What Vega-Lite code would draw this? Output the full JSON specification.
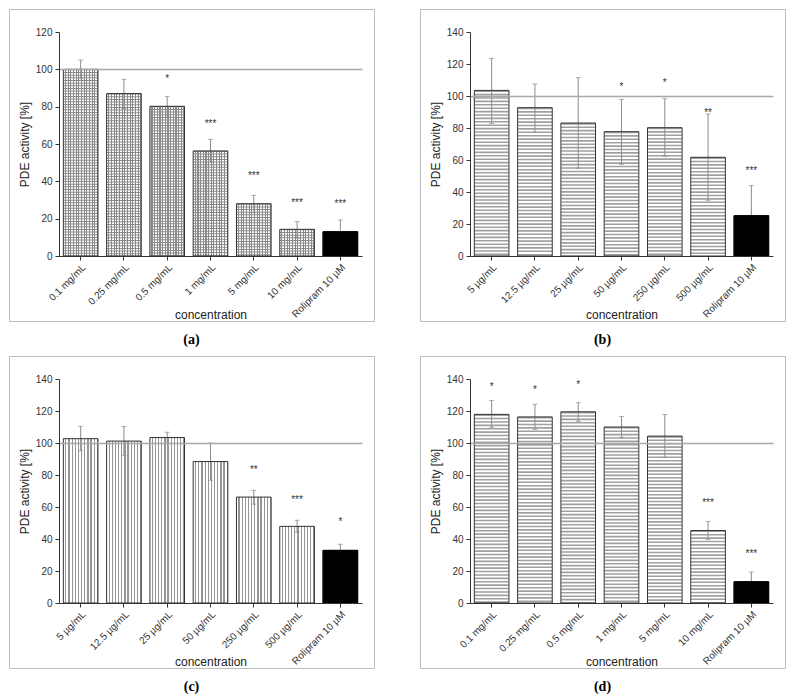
{
  "$schema": "https://vega.github.io/schema/vega-lite/v6.json",
  "padding": {"left": 8, "top": 8, "right": 4, "bottom": 4},
  "background": "white",
  "spacing": 7,
  "vconcat": [
    {
      "spacing": 44,
      "hconcat": [
        {
          "width": 365, "height": 312,
          "title": {"text": "(a)"},
          "data": {"values": [
            {"c": "0.1 mg/mL", "v": 100, "lo": 95, "hi": 105},
            {"c": "0.25 mg/mL", "v": 87, "lo": 79, "hi": 94.6},
            {"c": "0.5 mg/mL", "v": 80.2, "lo": 75, "hi": 85.5, "s": "*", "sy": 96},
            {"c": "1 mg/mL", "v": 56.3, "lo": 50.4, "hi": 62.5, "s": "***", "sy": 72.3},
            {"c": "5 mg/mL", "v": 28, "lo": 23.2, "hi": 32.5, "s": "***", "sy": 44},
            {"c": "10 mg/mL", "v": 14.3, "lo": 9.5, "hi": 18.4, "s": "***", "sy": 30},
            {"c": "Rolipram 10 µM", "v": 13, "lo": 6.8, "hi": 19.3, "s": "***", "sy": 29}
          ]},
          "encoding": {"x": {"field": "c", "type": "nominal", "sort": null,
            "scale": {"range": [50, 353], "paddingInner": 0.2, "paddingOuter": 0.1},
            "axis": {"title": "concentration", "labelAngle": -45, "labelAlign": "right", "labelBaseline": "top", "offset": -65, "tickSize": 4, "bandPosition": 0.5, "titleY": 62, "titleBaseline": "alphabetic", "labelPadding": 2, "zindex": 1}}},
          "layer": [
            {"mark": {"type": "bar", "strokeWidth": 0, "fill": {"gradient": "linear", "x1": 0, "x2": 1, "y1": 0, "y2": 0, "stops": [
              {"offset": 0, "color": "#fff"}, {"offset": 0.0462, "color": "#fff"}, {"offset": 0.0462, "color": "#8a8a8a"}, {"offset": 0.0769, "color": "#8a8a8a"},
              {"offset": 0.0769, "color": "#fff"}, {"offset": 0.1231, "color": "#fff"}, {"offset": 0.1231, "color": "#8a8a8a"}, {"offset": 0.1538, "color": "#8a8a8a"},
              {"offset": 0.1538, "color": "#fff"}, {"offset": 0.2, "color": "#fff"}, {"offset": 0.2, "color": "#8a8a8a"}, {"offset": 0.2308, "color": "#8a8a8a"},
              {"offset": 0.2308, "color": "#fff"}, {"offset": 0.2769, "color": "#fff"}, {"offset": 0.2769, "color": "#8a8a8a"}, {"offset": 0.3077, "color": "#8a8a8a"},
              {"offset": 0.3077, "color": "#fff"}, {"offset": 0.3538, "color": "#fff"}, {"offset": 0.3538, "color": "#8a8a8a"}, {"offset": 0.3846, "color": "#8a8a8a"},
              {"offset": 0.3846, "color": "#fff"}, {"offset": 0.4308, "color": "#fff"}, {"offset": 0.4308, "color": "#8a8a8a"}, {"offset": 0.4615, "color": "#8a8a8a"},
              {"offset": 0.4615, "color": "#fff"}, {"offset": 0.5077, "color": "#fff"}, {"offset": 0.5077, "color": "#8a8a8a"}, {"offset": 0.5385, "color": "#8a8a8a"},
              {"offset": 0.5385, "color": "#fff"}, {"offset": 0.5846, "color": "#fff"}, {"offset": 0.5846, "color": "#8a8a8a"}, {"offset": 0.6154, "color": "#8a8a8a"},
              {"offset": 0.6154, "color": "#fff"}, {"offset": 0.6615, "color": "#fff"}, {"offset": 0.6615, "color": "#8a8a8a"}, {"offset": 0.6923, "color": "#8a8a8a"},
              {"offset": 0.6923, "color": "#fff"}, {"offset": 0.7385, "color": "#fff"}, {"offset": 0.7385, "color": "#8a8a8a"}, {"offset": 0.7692, "color": "#8a8a8a"},
              {"offset": 0.7692, "color": "#fff"}, {"offset": 0.8154, "color": "#fff"}, {"offset": 0.8154, "color": "#8a8a8a"}, {"offset": 0.8462, "color": "#8a8a8a"},
              {"offset": 0.8462, "color": "#fff"}, {"offset": 0.8923, "color": "#fff"}, {"offset": 0.8923, "color": "#8a8a8a"}, {"offset": 0.9231, "color": "#8a8a8a"},
              {"offset": 0.9231, "color": "#fff"}, {"offset": 0.9692, "color": "#fff"}, {"offset": 0.9692, "color": "#8a8a8a"}, {"offset": 1, "color": "#8a8a8a"}
            ]}},
             "encoding": {"y": {"field": "v", "type": "quantitative", "title": "PDE activity [%]", "scale": {"domain": [0, 120], "range": [247, 23], "nice": false},
               "axis": {"values": [0, 10, 20, 30, 40, 50, 60, 70, 80, 90, 100, 110, 120], "labelExpr": "datum.value % 20 === 0 ? datum.label : ''", "labelOverlap": false,
                 "tickSize": {"condition": {"test": "datum.value % 20 === 0", "value": 4}, "value": 2}, "offset": -50, "labelPadding": 3, "titlePadding": 4,
                 "grid": true, "gridColor": "#a8a8a8", "gridWidth": 1.3, "gridOpacity": {"condition": {"test": "datum.value === 100", "value": 1}, "value": 0}, "zindex": 1}}}},
            {"mark": {"type": "rule", "strokeWidth": 34.2, "strokeDash": [1, 1.66], "color": "#8a8a8a"},
             "encoding": {"y": {"field": "v", "type": "quantitative", "title": "PDE activity [%]", "scale": {"domain": [0, 120], "range": [247, 23], "nice": false}}, "y2": {"datum": 0}}},
            {"mark": {"type": "errorbar", "color": "#8c8c8c", "ticks": {"size": 5}},
             "encoding": {"y": {"field": "lo", "type": "quantitative", "title": "PDE activity [%]", "scale": {"domain": [0, 120], "range": [247, 23], "nice": false}}, "y2": {"field": "hi"}}},
            {"mark": {"type": "bar", "fill": "transparent", "stroke": "#333", "strokeWidth": 1},
             "encoding": {"y": {"field": "v", "type": "quantitative", "title": "PDE activity [%]", "scale": {"domain": [0, 120], "range": [247, 23], "nice": false}}}},
            {"transform": [{"filter": "indexof(datum.c, 'Rolipram') >= 0"}],
             "mark": {"type": "bar", "fill": "#000", "stroke": "#000", "strokeWidth": 1},
             "encoding": {"y": {"field": "v", "type": "quantitative", "title": "PDE activity [%]", "scale": {"domain": [0, 120], "range": [247, 23], "nice": false}}}},
            {"transform": [{"filter": "datum.s != null"}],
             "mark": {"type": "text", "fontSize": 10, "baseline": "alphabetic", "dy": 5.5, "color": "#333"},
             "encoding": {"y": {"field": "sy", "type": "quantitative", "title": "PDE activity [%]", "scale": {"domain": [0, 120], "range": [247, 23], "nice": false}}, "text": {"field": "s"}}}
          ]
        },
        {
          "width": 365, "height": 312,
          "title": {"text": "(b)"},
          "data": {"values": [
            {"c": "5 µg/mL", "v": 103.5, "lo": 82.9, "hi": 123.5},
            {"c": "12.5 µg/mL", "v": 92.7, "lo": 77.3, "hi": 107.5},
            {"c": "25 µg/mL", "v": 83.1, "lo": 54.8, "hi": 111.5},
            {"c": "50 µg/mL", "v": 77.7, "lo": 57.3, "hi": 97.9, "s": "*", "sy": 107},
            {"c": "250 µg/mL", "v": 80.2, "lo": 62.3, "hi": 98.3, "s": "*", "sy": 110},
            {"c": "500 µg/mL", "v": 61.7, "lo": 34.8, "hi": 88.7, "s": "**", "sy": 91},
            {"c": "Rolipram 10 µM", "v": 25.2, "lo": 6.4, "hi": 44, "s": "***", "sy": 54.5}
          ]},
          "encoding": {"x": {"field": "c", "type": "nominal", "sort": null,
            "scale": {"range": [50, 353], "paddingInner": 0.2, "paddingOuter": 0.1},
            "axis": {"title": "concentration", "labelAngle": -45, "labelAlign": "right", "labelBaseline": "top", "offset": -65, "tickSize": 4, "bandPosition": 0.5, "titleY": 62, "titleBaseline": "alphabetic", "labelPadding": 2, "zindex": 1}}},
          "layer": [
            {"mark": {"type": "bar", "strokeWidth": 0, "fill": "#fff"},
             "encoding": {"y": {"field": "v", "type": "quantitative", "title": "PDE activity [%]", "scale": {"domain": [0, 140], "range": [247, 23], "nice": false},
               "axis": {"values": [0, 10, 20, 30, 40, 50, 60, 70, 80, 90, 100, 110, 120, 130, 140], "labelExpr": "datum.value % 20 === 0 ? datum.label : ''", "labelOverlap": false,
                 "tickSize": {"condition": {"test": "datum.value % 20 === 0", "value": 4}, "value": 2}, "offset": -50, "labelPadding": 3, "titlePadding": 4,
                 "grid": true, "gridColor": "#a8a8a8", "gridWidth": 1.3, "gridOpacity": {"condition": {"test": "datum.value === 100", "value": 1}, "value": 0}, "zindex": 1}}}},
            {"mark": {"type": "rule", "strokeWidth": 34.2, "strokeDash": [1.6, 1.8], "color": "#a0a0a0"},
             "encoding": {"y": {"field": "v", "type": "quantitative", "title": "PDE activity [%]", "scale": {"domain": [0, 140], "range": [247, 23], "nice": false}}, "y2": {"datum": 0}}},
            {"mark": {"type": "errorbar", "color": "#8c8c8c", "ticks": {"size": 5}},
             "encoding": {"y": {"field": "lo", "type": "quantitative", "title": "PDE activity [%]", "scale": {"domain": [0, 140], "range": [247, 23], "nice": false}}, "y2": {"field": "hi"}}},
            {"mark": {"type": "bar", "fill": "transparent", "stroke": "#333", "strokeWidth": 1},
             "encoding": {"y": {"field": "v", "type": "quantitative", "title": "PDE activity [%]", "scale": {"domain": [0, 140], "range": [247, 23], "nice": false}}}},
            {"transform": [{"filter": "indexof(datum.c, 'Rolipram') >= 0"}],
             "mark": {"type": "bar", "fill": "#000", "stroke": "#000", "strokeWidth": 1},
             "encoding": {"y": {"field": "v", "type": "quantitative", "title": "PDE activity [%]", "scale": {"domain": [0, 140], "range": [247, 23], "nice": false}}}},
            {"transform": [{"filter": "datum.s != null"}],
             "mark": {"type": "text", "fontSize": 10, "baseline": "alphabetic", "dy": 5.5, "color": "#333"},
             "encoding": {"y": {"field": "sy", "type": "quantitative", "title": "PDE activity [%]", "scale": {"domain": [0, 140], "range": [247, 23], "nice": false}}, "text": {"field": "s"}}}
          ]
        }
      ]
    },
    {
      "spacing": 44,
      "hconcat": [
        {
          "width": 365, "height": 312,
          "title": {"text": "(c)"},
          "data": {"values": [
            {"c": "5 µg/mL", "v": 102.7, "lo": 95.2, "hi": 110.4},
            {"c": "12.5 µg/mL", "v": 101.2, "lo": 92.3, "hi": 110.3},
            {"c": "25 µg/mL", "v": 103.4, "lo": 99.8, "hi": 106.7},
            {"c": "50 µg/mL", "v": 88.4, "lo": 76.7, "hi": 100},
            {"c": "250 µg/mL", "v": 66.2, "lo": 61.7, "hi": 70.4, "s": "**", "sy": 84.8},
            {"c": "500 µg/mL", "v": 47.9, "lo": 44.2, "hi": 51.7, "s": "***", "sy": 66.2},
            {"c": "Rolipram 10 µM", "v": 32.9, "lo": 29.1, "hi": 36.7, "s": "*", "sy": 52}
          ]},
          "encoding": {"x": {"field": "c", "type": "nominal", "sort": null,
            "scale": {"range": [50, 353], "paddingInner": 0.2, "paddingOuter": 0.1},
            "axis": {"title": "concentration", "labelAngle": -45, "labelAlign": "right", "labelBaseline": "top", "offset": -65, "tickSize": 4, "bandPosition": 0.5, "titleY": 62, "titleBaseline": "alphabetic", "labelPadding": 2, "zindex": 1}}},
          "layer": [
            {"mark": {"type": "bar", "strokeWidth": 0, "fill": {"gradient": "linear", "x1": 0, "x2": 1, "y1": 0, "y2": 0, "stops": [
              {"offset": 0, "color": "#fff"}, {"offset": 0.0545, "color": "#fff"}, {"offset": 0.0545, "color": "#959595"}, {"offset": 0.0909, "color": "#959595"},
              {"offset": 0.0909, "color": "#fff"}, {"offset": 0.1455, "color": "#fff"}, {"offset": 0.1455, "color": "#959595"}, {"offset": 0.1818, "color": "#959595"},
              {"offset": 0.1818, "color": "#fff"}, {"offset": 0.2364, "color": "#fff"}, {"offset": 0.2364, "color": "#959595"}, {"offset": 0.2727, "color": "#959595"},
              {"offset": 0.2727, "color": "#fff"}, {"offset": 0.3273, "color": "#fff"}, {"offset": 0.3273, "color": "#959595"}, {"offset": 0.3636, "color": "#959595"},
              {"offset": 0.3636, "color": "#fff"}, {"offset": 0.4182, "color": "#fff"}, {"offset": 0.4182, "color": "#959595"}, {"offset": 0.4545, "color": "#959595"},
              {"offset": 0.4545, "color": "#fff"}, {"offset": 0.5, "color": "#fff"}, {"offset": 0.5, "color": "#959595"}, {"offset": 0.5455, "color": "#959595"},
              {"offset": 0.5455, "color": "#fff"}, {"offset": 0.6, "color": "#fff"}, {"offset": 0.6, "color": "#959595"}, {"offset": 0.6364, "color": "#959595"},
              {"offset": 0.6364, "color": "#fff"}, {"offset": 0.6909, "color": "#fff"}, {"offset": 0.6909, "color": "#959595"}, {"offset": 0.7273, "color": "#959595"},
              {"offset": 0.7273, "color": "#fff"}, {"offset": 0.7818, "color": "#fff"}, {"offset": 0.7818, "color": "#959595"}, {"offset": 0.8182, "color": "#959595"},
              {"offset": 0.8182, "color": "#fff"}, {"offset": 0.8727, "color": "#fff"}, {"offset": 0.8727, "color": "#959595"}, {"offset": 0.9091, "color": "#959595"},
              {"offset": 0.9091, "color": "#fff"}, {"offset": 0.9636, "color": "#fff"}, {"offset": 0.9636, "color": "#959595"}, {"offset": 1, "color": "#959595"}
            ]}},
             "encoding": {"y": {"field": "v", "type": "quantitative", "title": "PDE activity [%]", "scale": {"domain": [0, 140], "range": [247, 23], "nice": false},
               "axis": {"values": [0, 10, 20, 30, 40, 50, 60, 70, 80, 90, 100, 110, 120, 130, 140], "labelExpr": "datum.value % 20 === 0 ? datum.label : ''", "labelOverlap": false,
                 "tickSize": {"condition": {"test": "datum.value % 20 === 0", "value": 4}, "value": 2}, "offset": -50, "labelPadding": 3, "titlePadding": 4,
                 "grid": true, "gridColor": "#a8a8a8", "gridWidth": 1.3, "gridOpacity": {"condition": {"test": "datum.value === 100", "value": 1}, "value": 0}, "zindex": 1}}}},
            {"mark": {"type": "errorbar", "color": "#8c8c8c", "ticks": {"size": 5}},
             "encoding": {"y": {"field": "lo", "type": "quantitative", "title": "PDE activity [%]", "scale": {"domain": [0, 140], "range": [247, 23], "nice": false}}, "y2": {"field": "hi"}}},
            {"mark": {"type": "bar", "fill": "transparent", "stroke": "#333", "strokeWidth": 1},
             "encoding": {"y": {"field": "v", "type": "quantitative", "title": "PDE activity [%]", "scale": {"domain": [0, 140], "range": [247, 23], "nice": false}}}},
            {"transform": [{"filter": "indexof(datum.c, 'Rolipram') >= 0"}],
             "mark": {"type": "bar", "fill": "#000", "stroke": "#000", "strokeWidth": 1},
             "encoding": {"y": {"field": "v", "type": "quantitative", "title": "PDE activity [%]", "scale": {"domain": [0, 140], "range": [247, 23], "nice": false}}}},
            {"transform": [{"filter": "datum.s != null"}],
             "mark": {"type": "text", "fontSize": 10, "baseline": "alphabetic", "dy": 5.5, "color": "#333"},
             "encoding": {"y": {"field": "sy", "type": "quantitative", "title": "PDE activity [%]", "scale": {"domain": [0, 140], "range": [247, 23], "nice": false}}, "text": {"field": "s"}}}
          ]
        },
        {
          "width": 365, "height": 312,
          "title": {"text": "(d)"},
          "data": {"values": [
            {"c": "0.1 mg/mL", "v": 117.9, "lo": 109.8, "hi": 126.6, "s": "*", "sy": 136.5},
            {"c": "0.25 mg/mL", "v": 116.3, "lo": 108.5, "hi": 124.2, "s": "*", "sy": 134.8},
            {"c": "0.5 mg/mL", "v": 119.5, "lo": 113.5, "hi": 125.2, "s": "*", "sy": 138},
            {"c": "1 mg/mL", "v": 110, "lo": 103.5, "hi": 116.6},
            {"c": "5 mg/mL", "v": 104.3, "lo": 91, "hi": 117.8},
            {"c": "10 mg/mL", "v": 45.3, "lo": 39.8, "hi": 51, "s": "***", "sy": 64.2},
            {"c": "Rolipram 10 µM", "v": 13.3, "lo": 7.2, "hi": 19.4, "s": "***", "sy": 32}
          ]},
          "encoding": {"x": {"field": "c", "type": "nominal", "sort": null,
            "scale": {"range": [50, 353], "paddingInner": 0.2, "paddingOuter": 0.1},
            "axis": {"title": "concentration", "labelAngle": -45, "labelAlign": "right", "labelBaseline": "top", "offset": -65, "tickSize": 4, "bandPosition": 0.5, "titleY": 62, "titleBaseline": "alphabetic", "labelPadding": 2, "zindex": 1}}},
          "layer": [
            {"mark": {"type": "bar", "strokeWidth": 0, "fill": "#fff"},
             "encoding": {"y": {"field": "v", "type": "quantitative", "title": "PDE activity [%]", "scale": {"domain": [0, 140], "range": [247, 23], "nice": false},
               "axis": {"values": [0, 10, 20, 30, 40, 50, 60, 70, 80, 90, 100, 110, 120, 130, 140], "labelExpr": "datum.value % 20 === 0 ? datum.label : ''", "labelOverlap": false,
                 "tickSize": {"condition": {"test": "datum.value % 20 === 0", "value": 4}, "value": 2}, "offset": -50, "labelPadding": 3, "titlePadding": 4,
                 "grid": true, "gridColor": "#a8a8a8", "gridWidth": 1.3, "gridOpacity": {"condition": {"test": "datum.value === 100", "value": 1}, "value": 0}, "zindex": 1}}}},
            {"mark": {"type": "rule", "strokeWidth": 34.2, "strokeDash": [1.6, 1.8], "color": "#a0a0a0"},
             "encoding": {"y": {"field": "v", "type": "quantitative", "title": "PDE activity [%]", "scale": {"domain": [0, 140], "range": [247, 23], "nice": false}}, "y2": {"datum": 0}}},
            {"mark": {"type": "errorbar", "color": "#8c8c8c", "ticks": {"size": 5}},
             "encoding": {"y": {"field": "lo", "type": "quantitative", "title": "PDE activity [%]", "scale": {"domain": [0, 140], "range": [247, 23], "nice": false}}, "y2": {"field": "hi"}}},
            {"mark": {"type": "bar", "fill": "transparent", "stroke": "#333", "strokeWidth": 1},
             "encoding": {"y": {"field": "v", "type": "quantitative", "title": "PDE activity [%]", "scale": {"domain": [0, 140], "range": [247, 23], "nice": false}}}},
            {"transform": [{"filter": "indexof(datum.c, 'Rolipram') >= 0"}],
             "mark": {"type": "bar", "fill": "#000", "stroke": "#000", "strokeWidth": 1},
             "encoding": {"y": {"field": "v", "type": "quantitative", "title": "PDE activity [%]", "scale": {"domain": [0, 140], "range": [247, 23], "nice": false}}}},
            {"transform": [{"filter": "datum.s != null"}],
             "mark": {"type": "text", "fontSize": 10, "baseline": "alphabetic", "dy": 5.5, "color": "#333"},
             "encoding": {"y": {"field": "sy", "type": "quantitative", "title": "PDE activity [%]", "scale": {"domain": [0, 140], "range": [247, 23], "nice": false}}, "text": {"field": "s"}}}
          ]
        }
      ]
    }
  ],
  "config": {
    "font": "Liberation Sans",
    "view": {"stroke": "#bdbdbd", "strokeWidth": 1},
    "axis": {"domainColor": "#333", "tickColor": "#333", "labelColor": "#333", "titleColor": "#222", "labelFont": "Liberation Sans", "titleFont": "Liberation Sans", "titleFontWeight": "normal", "labelFontSize": 10, "titleFontSize": 12, "domainWidth": 1, "tickWidth": 1},
    "title": {"orient": "bottom", "anchor": "middle", "frame": "group", "font": "Liberation Serif", "fontSize": 14, "fontWeight": "bold", "color": "#000", "offset": 12, "baseline": "top"}
  }
}
